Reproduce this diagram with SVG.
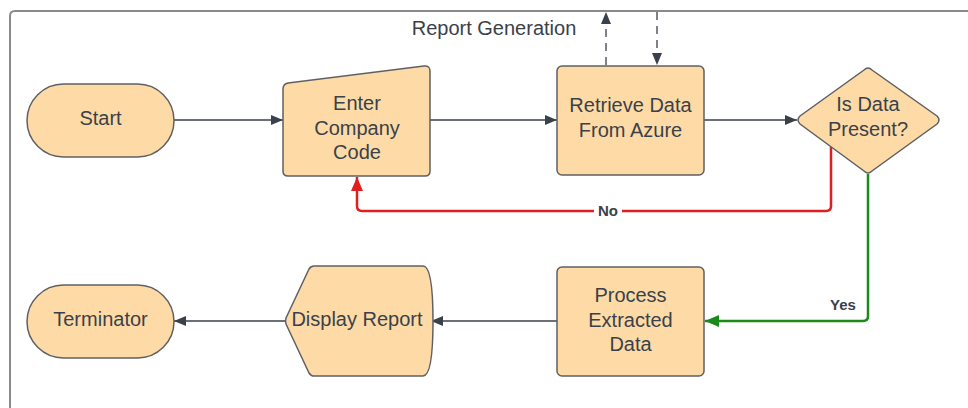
<svg xmlns="http://www.w3.org/2000/svg" width="968" height="408" viewBox="0 0 968 408">
  <style>
    .shape { fill: #fedba6; stroke: #5f6063; stroke-width: 1.5; }
    .label { font-family: "Liberation Sans", Arial, sans-serif; font-size: 20px; fill: #3a414a; text-anchor: middle; }
    .edge { fill: none; stroke: #3a414a; stroke-width: 1.3; }
    .dashed { fill: none; stroke: #3a414a; stroke-width: 1.3; stroke-dasharray: 8 6; }
    .no { fill: none; stroke: #e02020; stroke-width: 2.5; }
    .yes { fill: none; stroke: #1a8a1a; stroke-width: 2.5; }
    .tag { font-family: "Liberation Sans", Arial, sans-serif; font-size: 15px; font-weight: bold; fill: #3a414a; text-anchor: middle; }
  </style>
  <defs>
    <marker id="arrow" viewBox="0 0 12 10" refX="12" refY="5" markerWidth="12" markerHeight="10" markerUnits="userSpaceOnUse" orient="auto">
      <path d="M0,0 L12,5 L0,10 Z" fill="#3a414a"/>
    </marker>
    <marker id="arrowRed" viewBox="0 0 14 12" refX="14" refY="6" markerWidth="14" markerHeight="12" markerUnits="userSpaceOnUse" orient="auto">
      <path d="M0,0 L14,6 L0,12 Z" fill="#e02020"/>
    </marker>
    <marker id="arrowGreen" viewBox="0 0 14 12" refX="14" refY="6" markerWidth="14" markerHeight="12" markerUnits="userSpaceOnUse" orient="auto">
      <path d="M0,0 L14,6 L0,12 Z" fill="#1a8a1a"/>
    </marker>
  </defs>

  <rect width="968" height="408" fill="#ffffff"/>

  <!-- swimlane frame -->
  <g id="frame">
    <path d="M10,420 L10,16 Q10,11 15,11 L980,11" fill="none" stroke="#8a8a8a" stroke-width="2"/>
    <text class="label" x="494" y="35">Report Generation</text>
  </g>

  <!-- connectors -->
  <g id="connectors">
    <path class="dashed" d="M606,65 L606,12" marker-end="url(#arrow)"/>
    <path class="dashed" d="M657,12 L657,65" marker-end="url(#arrow)"/>
    <path class="edge" d="M174,120 L283,120" marker-end="url(#arrow)"/>
    <path class="edge" d="M430,120 L557,120" marker-end="url(#arrow)"/>
    <path class="edge" d="M704,120 L797,120" marker-end="url(#arrow)"/>
    <path class="no" d="M831,147 L831,206 Q831,211 826,211 L362,211 Q357,211 357,206 L357,177" marker-end="url(#arrowRed)"/>
    <path class="yes" d="M868,174 L868,316 Q868,321 863,321 L705,321" marker-end="url(#arrowGreen)"/>
    <path class="edge" d="M557,321 L431,321" marker-end="url(#arrow)"/>
    <path class="edge" d="M285,321 L174,321" marker-end="url(#arrow)"/>
    <rect x="594" y="202" width="28" height="17" fill="#ffffff"/>
    <text class="tag" x="608" y="216">No</text>
    <text class="tag" x="843" y="310">Yes</text>
  </g>

  <g id="start">
    <rect class="shape" x="27" y="84" width="147" height="73" rx="36.5"/>
    <text class="label" x="100.5" y="125">Start</text>
  </g>

  <g id="enter-company-code">
    <path class="shape" d="M288,83 L424,66 Q430,65.5 430,71 L430,171 Q430,176 425,176 L288,176 Q283,176 283,171 L283,89 Q283,84 288,83 Z"/>
    <text class="label" x="357" y="110">Enter</text>
    <text class="label" x="357" y="135">Company</text>
    <text class="label" x="357" y="159">Code</text>
  </g>

  <g id="retrieve-data">
    <rect class="shape" x="557" y="66" width="147" height="109" rx="5"/>
    <text class="label" x="630.5" y="112">Retrieve Data</text>
    <text class="label" x="630.5" y="137">From Azure</text>
  </g>

  <g id="is-data-present">
    <path class="shape" d="M864,70 Q868,66 872,70 L937,116 Q941,120 937,124 L872,171 Q868,175 864,171 L800,124 Q796,120 800,116 Z"/>
    <text class="label" x="868" y="111">Is Data</text>
    <text class="label" x="868" y="136">Present?</text>
  </g>

  <g id="process-data">
    <rect class="shape" x="557" y="267" width="147" height="109" rx="5"/>
    <text class="label" x="630.5" y="302">Process</text>
    <text class="label" x="630.5" y="327">Extracted</text>
    <text class="label" x="630.5" y="351">Data</text>
  </g>

  <g id="display-report">
    <path class="shape" d="M314,266 L423,266 Q433,266 433,321 Q433,376 423,376 L314,376 Q311,376 309,373 L286,324 Q285,321 286,318 L309,269 Q311,266 314,266 Z"/>
    <text class="label" x="357" y="326">Display Report</text>
  </g>

  <g id="terminator">
    <rect class="shape" x="27" y="285" width="147" height="73" rx="36.5"/>
    <text class="label" x="100.5" y="326">Terminator</text>
  </g>
</svg>
